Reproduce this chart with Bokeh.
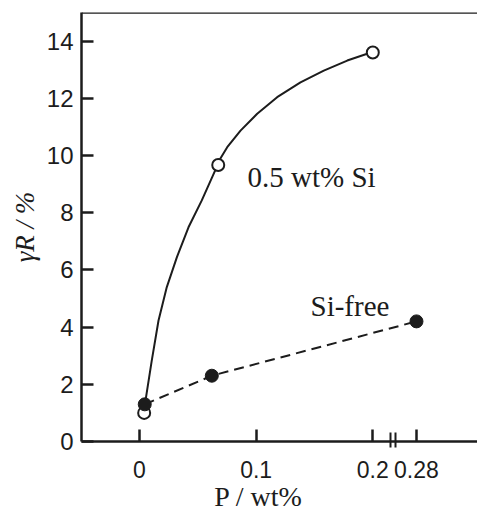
from bokeh.plotting import figure
from bokeh.models import Label, Span, FixedTicker, Range1d
from bokeh.embed import file_html
from bokeh.resources import INLINE

# ---- data ----
si05_x = [0.004, 0.0675, 0.2]
si05_y = [1.0, 9.67, 13.6]
si05_curve_x = [0.0049, 0.0105, 0.0163, 0.0234, 0.0320, 0.0420, 0.0534, 0.0649, 0.0666,
                0.0752, 0.0866, 0.1009, 0.1180, 0.1380, 0.1580, 0.1781, 0.1952]
si05_curve_y = [1.37, 2.83, 4.23, 5.40, 6.44, 7.49, 8.43, 9.48, 9.71,
                10.29, 10.87, 11.46, 12.04, 12.56, 12.97, 13.32, 13.56]
sifree_x = [0.0045, 0.062, 0.28]
sifree_y = [1.3, 2.3, 4.2]

x_tick_values = [0.0, 0.1, 0.2, 0.28]
x_tick_labels = ["0", "0.1", "0.2", "0.28"]
y_tick_values = [0, 2, 4, 6, 8, 10, 12, 14]

# ---- broken x axis: beyond the break the scale is compressed ----
BREAK_AT = 0.2
COMPRESS = 0.468


def to_axis(x):
    return x if x <= BREAK_AT else BREAK_AT + (x - BREAK_AT) * COMPRESS


# pixel helpers for placing annotations
PX_PER_X = 1166.5
PX_PER_Y = 28.6
X0_PX = 139
Y0_PX = 441


def xd(px):
    return (px - X0_PX) / PX_PER_X


def yd(py):
    return (Y0_PX - py) / PX_PER_Y


W, H = 477, 515
LEFT, TOP, BOTTOM = 81, 12, 441

p = figure(width=W, height=H, output_backend="svg", toolbar_location=None,
           x_range=Range1d(xd(LEFT), xd(W)), y_range=Range1d(0, yd(TOP)),
           min_border_left=LEFT, min_border_right=0, min_border_top=TOP,
           min_border_bottom=H - BOTTOM)
p.outline_line_color = None
p.grid.visible = False
p.background_fill_color = "white"
p.border_fill_color = "white"

ink = "#1c1c1c"
serif = "Liberation Serif"

# axes
p.xaxis.ticker = FixedTicker(ticks=[to_axis(v) for v in x_tick_values],
                             minor_ticks=[xd(390), xd(395)])
p.xaxis.major_label_overrides = {to_axis(v): s for v, s in zip(x_tick_values, x_tick_labels)}
p.yaxis.ticker = FixedTicker(ticks=y_tick_values, minor_ticks=[])

p.axis.axis_line_color = ink
p.axis.axis_line_width = 2.5
p.axis.major_tick_line_color = ink
p.axis.major_tick_line_width = 2.5
p.axis.major_tick_in = 12
p.axis.major_tick_out = 0
p.axis.major_label_text_font = "Liberation Sans"
p.axis.major_label_text_color = ink
p.xaxis.major_label_text_font_size = "23px"
p.yaxis.major_label_text_font_size = "24px"

p.xaxis.minor_tick_line_color = ink
p.xaxis.minor_tick_line_width = 2
p.xaxis.minor_tick_in = 9
p.xaxis.minor_tick_out = 6
p.yaxis.minor_tick_line_color = None
p.xaxis.major_label_standoff = 13
p.yaxis.major_label_standoff = 8

# axis titles
p.yaxis.axis_label = "γR / %"
p.yaxis.axis_label_text_font = serif
p.yaxis.axis_label_text_font_style = "italic"
p.yaxis.axis_label_text_font_size = "27px"
p.yaxis.axis_label_text_color = ink
p.yaxis.axis_label_standoff = 4

p.xaxis.axis_label = "P / wt%" + "\u00a0" * 6
p.xaxis.axis_label_text_font = serif
p.xaxis.axis_label_text_font_style = "normal"
p.xaxis.axis_label_text_font_size = "28px"
p.xaxis.axis_label_text_color = ink
p.xaxis.axis_label_standoff = 0

# top border
p.add_layout(Span(location=yd(TOP), dimension="width", line_color=ink, line_width=2.5))

# curves
p.line([to_axis(v) for v in si05_curve_x], si05_curve_y, line_color=ink, line_width=2)
p.line([to_axis(v) for v in sifree_x], sifree_y, line_color=ink, line_width=2,
       line_dash="10 6")

# markers
p.scatter([to_axis(v) for v in si05_x], si05_y, size=12, marker="circle",
          fill_color="white", line_color=ink, line_width=2)
p.scatter([to_axis(v) for v in sifree_x], sifree_y, size=13, marker="circle",
          fill_color=ink, line_color=ink)

# text annotations
p.add_layout(Label(x=xd(247), y=yd(176), text="0.5 wt% Si", text_font=serif,
                   text_font_size="29px", text_color=ink, text_baseline="alphabetic"))
p.add_layout(Label(x=xd(310), y=yd(305), text="Si-free", text_font=serif,
                   text_font_size="29px", text_color=ink, text_baseline="alphabetic"))

open("out.html", "w").write(file_html(p, INLINE))
